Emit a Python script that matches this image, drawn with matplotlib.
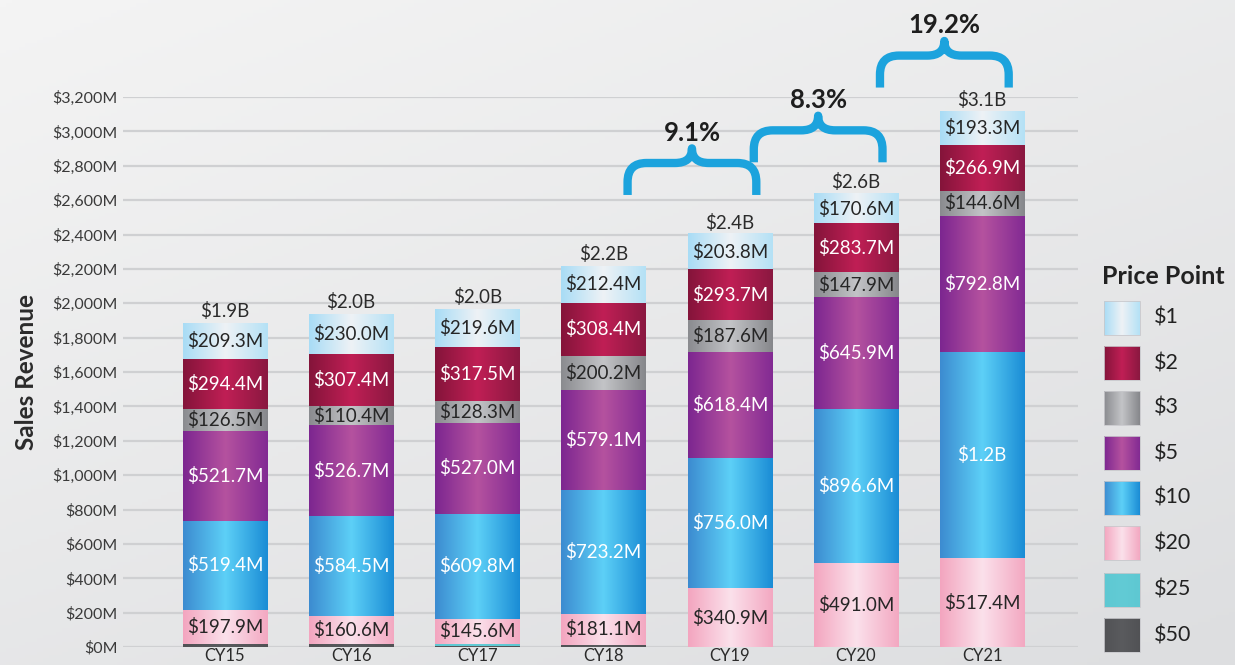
import numpy as np
import matplotlib
matplotlib.use('Agg')
import matplotlib.pyplot as plt
from matplotlib.colors import LinearSegmentedColormap
from matplotlib.path import Path
from matplotlib.patches import PathPatch, Rectangle

# ---------------- data ----------------
years = ['CY15', 'CY16', 'CY17', 'CY18', 'CY19', 'CY20', 'CY21']
p50 = [18, 18, 8, 12, 0, 0, 0]
p25 = [0, 0, 12, 0, 0, 0, 0]
p20 = [197.9, 160.6, 145.6, 181.1, 340.9, 491.0, 517.4]
p10 = [519.4, 584.5, 609.8, 723.2, 756.0, 896.6, 1200.0]
p5 = [521.7, 526.7, 527.0, 579.1, 618.4, 645.9, 792.8]
p3 = [126.5, 110.4, 128.3, 200.2, 187.6, 147.9, 144.6]
p2 = [294.4, 307.4, 317.5, 308.4, 293.7, 283.7, 266.9]
p1 = [209.3, 230.0, 219.6, 212.4, 203.8, 170.6, 193.3]
total_labels = ['$1.9B', '$2.0B', '$2.0B', '$2.2B', '$2.4B', '$2.6B', '$3.1B']
growth_from = [3, 4, 5]
growth_to = [4, 5, 6]
growth_labels = ['9.1%', '8.3%', '19.2%']
price_points = ['$1', '$2', '$3', '$5', '$10', '$20', '$25', '$50']
yticks = list(range(0, 3201, 200))

# ---------------- styles ----------------
FONT = 'Lato'
plt.rcParams['font.family'] = [FONT, 'DejaVu Sans']
grads = {
    '$1': ['#a8dcf6', '#eef2f5', '#b4e1f6'],
    '$2': ['#84143a', '#c01f55', '#8a1840'],
    '$3': ['#8a8b8f', '#c3c4c7', '#86878b'],
    '$5': ['#7c2690', '#b5529f', '#822a93'],
    '$10': ['#3c8bd0', '#5dd0f7', '#1a8cd5'],
    '$20': ['#f3a5bf', '#fbe1eb', '#f3a8c1'],
    '$25': ['#5ec8d2', '#62cbd5', '#5ec8d2'],
    '$50': ['#515255', '#5a5b5e', '#515255'],
}
text_col = {'$1': '#262626', '$2': 'white', '$3': '#262626', '$5': 'white',
            '$10': 'white', '$20': '#262626'}
brace_color = '#1ca3dd'

W, H = 1235, 665
fig = plt.figure(figsize=(W / 100, H / 100), dpi=100)

# background gradient
bg = fig.add_axes([0, 0, 1, 1], zorder=-10)
yy = np.linspace(0, 1, 200).reshape(-1, 1)
xx = np.linspace(0, 1, 200).reshape(1, -1)
bgval = 0.6 * yy + 0.4 * xx
bg.imshow(bgval, cmap=LinearSegmentedColormap.from_list('bg', ['#f4f4f4', '#dddee0']),
          aspect='auto', extent=[0, 1, 0, 1], origin='upper')
bg.set_axis_off()

# main axes
y0px, y3200px = 647, 97
left_px, right_px = 123, 1078
ax = fig.add_axes([left_px / W, (H - y0px) / H, (right_px - left_px) / W, (y0px - y3200px) / H])
ax.patch.set_alpha(0)
spacing = 126.2
xleft = (left_px - 225) / spacing
xright = (right_px - 225) / spacing

x = np.arange(len(years))
width = 0.67
series = [('$50', p50), ('$25', p25), ('$20', p20), ('$10', p10),
          ('$5', p5), ('$3', p3), ('$2', p2), ('$1', p1)]
bottom = np.zeros(len(years))
grad_img = np.linspace(0, 1, 256).reshape(1, -1)
for name, vals in series:
    vals = np.array(vals, dtype=float)
    bars = ax.bar(x, vals, width, bottom=bottom, color=grads[name][0],
                  edgecolor='none', zorder=2)
    cmap = LinearSegmentedColormap.from_list(name, grads[name])
    for b, v, bt in zip(bars, vals, bottom):
        if v <= 0:
            continue
        ax.imshow(grad_img, cmap=cmap, aspect='auto', zorder=3,
                  extent=[b.get_x(), b.get_x() + b.get_width(), bt, bt + v])
        if name in text_col:
            lab = f'${v / 1000:.1f}B' if v >= 1000 else f'${v:.1f}M'
            ax.text(b.get_x() + b.get_width() / 2, bt + v / 2, lab,
                    ha='center', va='center', fontsize=13.5, color=text_col[name],
                    zorder=5)
    bottom = bottom + vals

totals = bottom
for xi, t, lab in zip(x, totals, total_labels):
    ax.annotate(lab, (xi, t), xytext=(0, 2), textcoords='offset points',
                ha='center', va='bottom', fontsize=13.5, color='#2b2b2b', zorder=5)

ax.set_xlim(xleft, xright)
ax.set_ylim(0, 3200)
ax.set_yticks(yticks)
ax.set_yticklabels([f'${v:,}M' for v in yticks])
ax.set_xticks(x)
ax.set_xticklabels(years)
ax.tick_params(axis='y', length=0, pad=4, labelsize=11.5, labelcolor='#3a3a3a')
ax.tick_params(axis='x', length=0, pad=1, labelsize=12, labelcolor='#2b2b2b')
ax.grid(axis='y', color='#cfd0d2', linewidth=1.6, zorder=0)
ax.set_axisbelow(True)
for s in ax.spines.values():
    s.set_visible(False)
ax.set_ylabel('Sales Revenue', fontsize=17.5, fontweight='bold', color='#2b2b2b', labelpad=10)

# growth braces
brace_base = [2630, 2820, 3255]
leg_h, peak_h = 186, 85
rx, ry = 0.15, 110
for a, bidx, base, lab in zip(growth_from, growth_to, brace_base, growth_labels):
    x0 = a + 0.19
    x1 = bidx + 0.21
    xm = (x0 + x1) / 2
    yh = base + leg_h
    yp = yh + peak_h
    verts = [(x0, base), (x0, yh - ry), (x0, yh), (x0 + rx, yh),
             (xm - rx * 0.9, yh), (xm, yh), (xm, yp),
             (xm, yh), (xm + rx * 0.9, yh), (x1 - rx, yh),
             (x1, yh), (x1, yh - ry), (x1, base)]
    codes = [Path.MOVETO, Path.LINETO, Path.CURVE3, Path.CURVE3,
             Path.LINETO, Path.CURVE3, Path.CURVE3,
             Path.CURVE3, Path.CURVE3, Path.LINETO,
             Path.CURVE3, Path.CURVE3, Path.LINETO]
    pp = PathPatch(Path(verts, codes), facecolor='none', edgecolor=brace_color,
                   linewidth=6, capstyle='butt', joinstyle='round', clip_on=False, zorder=6)
    ax.add_patch(pp)
    ax.text(xm, yp + 22, lab, ha='center', va='bottom', fontsize=18.5,
            fontweight='bold', color='#1e1e1e', clip_on=False, zorder=6)

# legend (drawn in pixel space)
lg = fig.add_axes([0, 0, 1, 1], zorder=10)
lg.set_xlim(0, W)
lg.set_ylim(H, 0)
lg.set_axis_off()
lg.patch.set_alpha(0)
lg.text(1102, 276, 'Price Point', fontsize=18, fontweight='bold', color='#222222',
        ha='left', va='center')
sw_y = [318, 363, 408, 453, 498, 543, 590, 635]
for name, cy in zip(price_points, sw_y):
    cmap = LinearSegmentedColormap.from_list('l' + name, grads[name])
    lg.imshow(grad_img, cmap=cmap, aspect='auto',
              extent=[1104, 1140, cy + 17, cy - 17], zorder=11)
    lg.add_patch(Rectangle((1104, cy - 17), 36, 34, facecolor='none',
                           edgecolor='#c8c8cc', linewidth=0.6, zorder=12))
    lg.text(1154, cy, name, fontsize=15.5, color='#222222', ha='left', va='center')
lg.set_xlim(0, W)
lg.set_ylim(H, 0)

fig.savefig('out.png', dpi=100)
